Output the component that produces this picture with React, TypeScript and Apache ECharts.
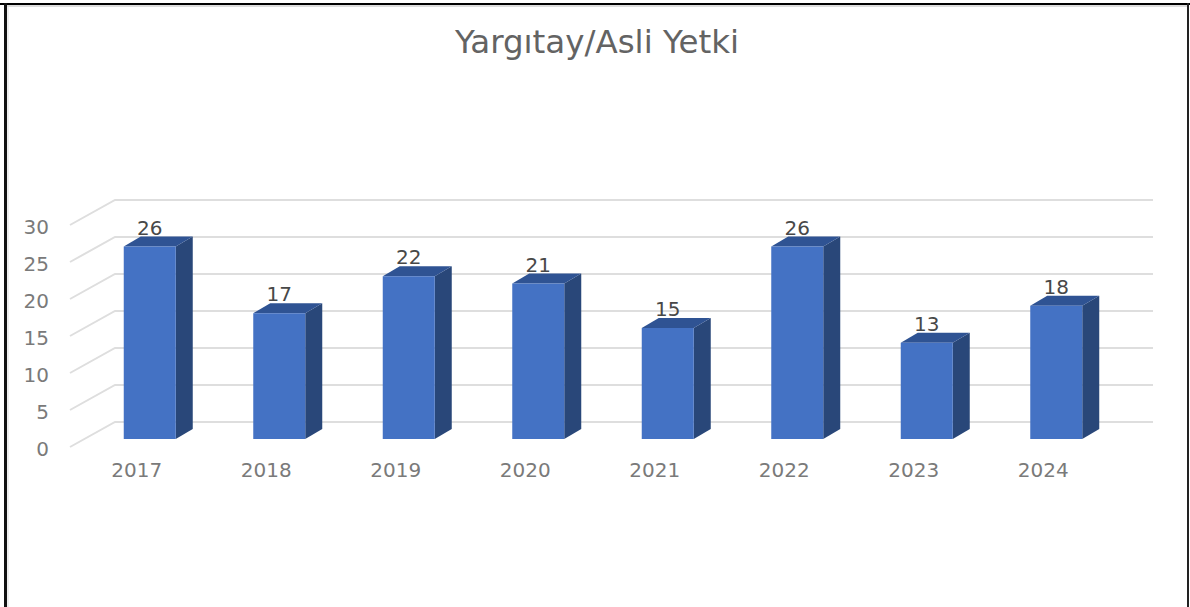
import React, { useEffect, useRef } from "react";
import * as echarts from "echarts";

const title = "Yargıtay/Asli Yetki";
const years = ["2017", "2018", "2019", "2020", "2021", "2022", "2023", "2024"];
const counts = [26, 17, 22, 21, 15, 26, 13, 18];
const ticks = [0, 5, 10, 15, 20, 25, 30];

const FONT = "'DejaVu Sans', sans-serif";

export default function App() {
  const ref = useRef<HTMLDivElement>(null);
  useEffect(() => {
    const chart = echarts.init(ref.current!, undefined, { renderer: "svg" });
    chart.setOption({
      animation: false,
      backgroundColor: "#ffffff",
      title: {
        text: title,
        left: 592,
        top: 20,
        textAlign: "center",
        textStyle: { fontFamily: FONT, fontSize: 32.5, fontWeight: "normal", color: "#636363" },
      },
      grid: { left: 85, right: 69, top: 217, bottom: 168 },
      xAxis: {
        type: "category",
        data: years,
        axisLine: { show: false },
        axisTick: { show: false },
        axisLabel: {
          fontFamily: FONT,
          fontSize: 20,
          color: "#7a7a7a",
          margin: 21,
          padding: [0, 26, 0, 0],
        },
      },
      yAxis: {
        type: "value",
        min: 0,
        max: 30,
        interval: 5,
        splitLine: { show: false },
        axisLine: { show: false },
        axisTick: { show: false },
        axisLabel: {
          fontFamily: FONT,
          fontSize: 20,
          color: "#7a7a7a",
          margin: 36,
          verticalAlign: "top",
        },
      },
      graphic: [
        { type: "line", shape: { x1: 7, y1: 6, x2: 1187, y2: 6 }, style: { stroke: "#dddddd", lineWidth: 2 } },
        { type: "line", shape: { x1: 8, y1: 5, x2: 8, y2: 607 }, style: { stroke: "#dddddd", lineWidth: 1 } },
        { type: "line", shape: { x1: 0, y1: 4, x2: 1190, y2: 4 }, style: { stroke: "#000", lineWidth: 2 } },
        { type: "line", shape: { x1: 5.5, y1: 3, x2: 5.5, y2: 607 }, style: { stroke: "#111", lineWidth: 3 } },
        { type: "line", shape: { x1: 1188, y1: 3, x2: 1188, y2: 607 }, style: { stroke: "#222", lineWidth: 2 } },
      ],
      series: [
        {
          type: "custom",
          silent: true,
          z: 1,
          clip: false,
          encode: { x: 0, y: 1 },
          data: ticks.map((t) => [0, t]),
          renderItem: (params: any, api: any) => {
            const y = api.coord([0, api.value(1)])[1];
            const cs = params.coordSys;
            return {
              type: "polyline",
              shape: {
                points: [
                  [cs.x - 15, y + 8],
                  [cs.x + 30, y - 17],
                  [cs.x + cs.width + 32, y - 17],
                ],
              },
              style: { stroke: "#dedede", lineWidth: 2, fill: "none" },
            };
          },
        },
        {
          type: "custom",
          silent: true,
          z: 2,
          clip: false,
          encode: { x: 0, y: 1 },
          data: counts.map((v, i) => [i, v]),
          renderItem: (_params: any, api: any) => {
            const value = api.value(1);
            const [cx, top] = api.coord([api.value(0), value]);
            const bottom = api.coord([api.value(0), 0])[1];
            const w = 52;
            const dx = 17;
            const dy = 10;
            const l = cx - w / 2;
            const r = cx + w / 2;
            return {
              type: "group",
              children: [
                {
                  type: "polygon",
                  shape: { points: [[r, top], [r + dx, top - dy], [r + dx, bottom - dy], [r, bottom]] },
                  style: { fill: "#294779" },
                },
                {
                  type: "polygon",
                  shape: { points: [[l, top], [l + dx, top - dy], [r + dx, top - dy], [r, top]] },
                  style: { fill: "#2f5393" },
                },
                {
                  type: "rect",
                  shape: { x: l, y: top, width: w, height: bottom - top },
                  style: { fill: "#4472c4" },
                },
                {
                  type: "text",
                  style: {
                    x: cx,
                    y: top - 19,
                    text: String(value),
                    fontFamily: FONT,
                    fontSize: 20,
                    fill: "#484848",
                    align: "center",
                    verticalAlign: "middle",
                  },
                },
              ],
            };
          },
        },
      ],
    });
    return () => chart.dispose();
  }, []);
  return <div ref={ref} style={{ position: "absolute", left: 0, top: 0, width: 1190, height: 607 }} />;
}
